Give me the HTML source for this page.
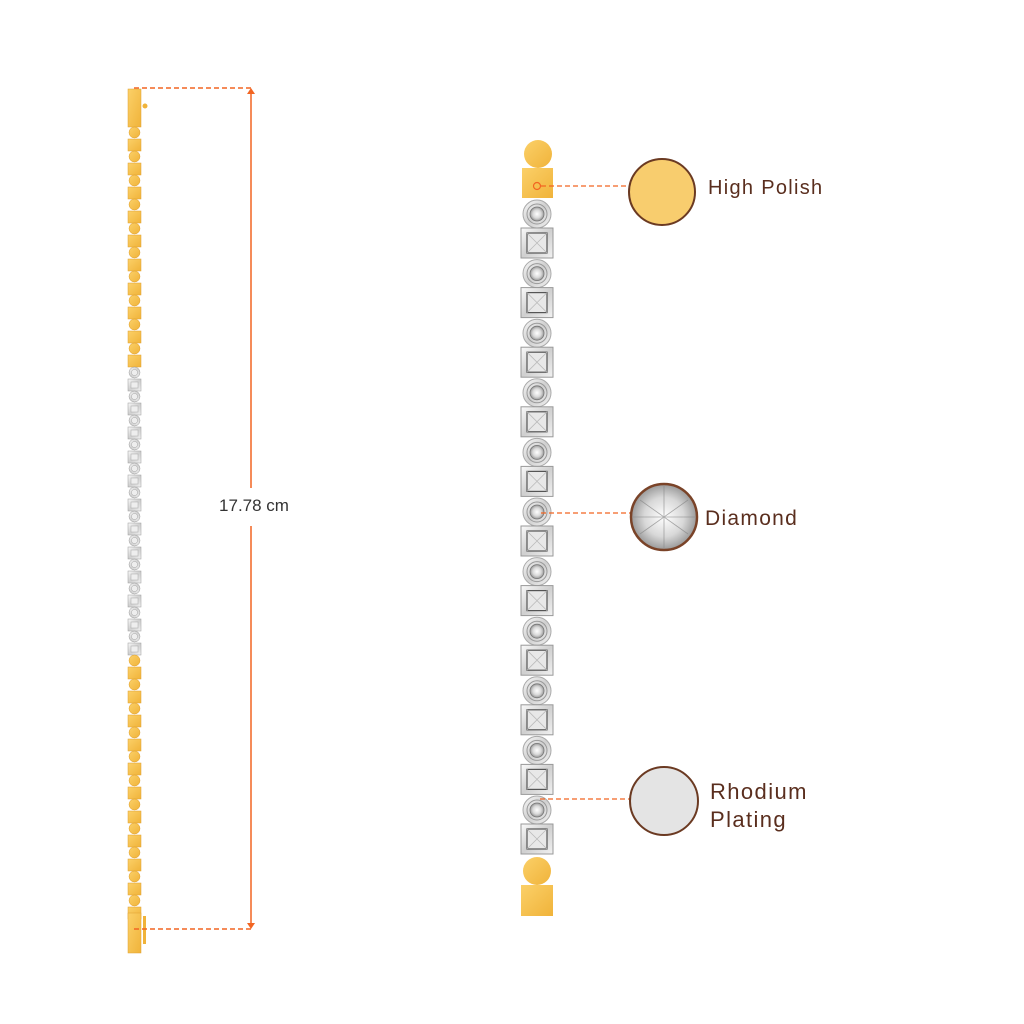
<!DOCTYPE html>
<html><head><meta charset="utf-8">
<style>
html,body{margin:0;padding:0;background:#fff;width:1024px;height:1024px;overflow:hidden}
svg{position:absolute;left:0;top:0}
text{font-family:"Liberation Sans",sans-serif}
</style></head>
<body>
<svg id="s" width="1024" height="1024" viewBox="0 0 1024 1024" xmlns="http://www.w3.org/2000/svg">
<defs>
<linearGradient id="gold" x1="0" x2="1" y1="0" y2="1"><stop offset="0" stop-color="#fbd068"/><stop offset="1" stop-color="#f0b33a"/></linearGradient>
<linearGradient id="silv" x1="0" x2="1" y1="0" y2="1"><stop offset="0" stop-color="#fafafa"/><stop offset="0.5" stop-color="#cfcfcf"/><stop offset="1" stop-color="#f2f2f2"/></linearGradient>
<radialGradient id="dia"><stop offset="0" stop-color="#fff"/><stop offset="0.6" stop-color="#d8d8d8"/><stop offset="1" stop-color="#999"/></radialGradient>
</defs>
<g id="left"></g>
<g id="right"></g>
<line x1="134" y1="88" x2="251" y2="88" stroke="#f26522" stroke-width="1.5" stroke-dasharray="5,3"/>
<line x1="134" y1="929" x2="251" y2="929" stroke="#f26522" stroke-width="1.5" stroke-dasharray="5,3"/>
<line x1="251" y1="92" x2="251" y2="488" stroke="#f26522" stroke-width="1.5"/>
<line x1="251" y1="526" x2="251" y2="925" stroke="#f26522" stroke-width="1.5"/>
<polygon points="247,94 255,94 251,88" fill="#f26522"/>
<polygon points="247,923 255,923 251,929" fill="#f26522"/>
<text x="254" y="511" text-anchor="middle" font-size="17" fill="#333">17.78 cm</text>
<line x1="541" y1="186" x2="628" y2="186" stroke="#f26522" stroke-width="1.3" stroke-dasharray="5,3"/>
<circle cx="537" cy="186" r="3.5" fill="none" stroke="#f26522" stroke-width="1.2"/>
<line x1="541" y1="513" x2="630" y2="513" stroke="#f26522" stroke-width="1.3" stroke-dasharray="5,3"/>
<line x1="540" y1="799" x2="630" y2="799" stroke="#f26522" stroke-width="1.3" stroke-dasharray="5,3"/>
<circle cx="662" cy="192" r="33" fill="#f8cd6e" stroke="#6b3a22" stroke-width="2"/>
<circle cx="664" cy="517" r="33" fill="url(#dia)" stroke="#7a4328" stroke-width="2.5"/>
<g stroke="#888" stroke-width="0.8" opacity="0.7">
<line x1="640" y1="500" x2="688" y2="534"/><line x1="640" y1="534" x2="688" y2="500"/><line x1="664" y1="486" x2="664" y2="548"/><line x1="633" y1="517" x2="695" y2="517"/>
</g>
<circle cx="664" cy="801" r="34" fill="#e4e4e4" stroke="#6b3a22" stroke-width="2"/>
<text x="708" y="194" font-size="20" fill="#5a2e1e" letter-spacing="1.3">High Polish</text>
<text x="705" y="525" font-size="21" fill="#5a2e1e" letter-spacing="1.3">Diamond</text>
<text x="710" y="799" font-size="22" fill="#5a2e1e" letter-spacing="1.4">Rhodium</text>
<text x="710" y="827" font-size="22" fill="#5a2e1e" letter-spacing="1.4">Plating</text>
</svg>
<script>
var NS="http://www.w3.org/2000/svg";
function el(p,t,a){var e=document.createElementNS(NS,t);for(var k in a)e.setAttribute(k,a[k]);p.appendChild(e);return e;}
var L=document.getElementById('left'),R=document.getElementById('right');
el(L,'rect',{x:128,y:89,width:13,height:38,fill:'url(#gold)',stroke:'#e0a030','stroke-width':0.5});
el(L,'circle',{cx:145,cy:106,r:2.5,fill:'#f0b33a'});
for(var y=127;y<905;y+=24){
 var sil=(y>360&&y<632);
 el(L,'circle',{cx:134.5,cy:y+5.5,r:5.5,fill:sil?'url(#silv)':'url(#gold)',stroke:sil?'#999':'#e0a030','stroke-width':0.5});
 el(L,'rect',{x:128,y:y+12,width:13,height:12,fill:sil?'url(#silv)':'url(#gold)',stroke:sil?'#999':'#e0a030','stroke-width':0.5});
 if(sil){el(L,'rect',{x:131,y:y+15,width:7,height:6,fill:'#eee',stroke:'#aaa','stroke-width':0.5});el(L,'circle',{cx:134.5,cy:y+5.5,r:3,fill:'#eee',stroke:'#aaa','stroke-width':0.5});}
}
el(L,'rect',{x:128,y:913,width:13,height:40,fill:'url(#gold)',stroke:'#e0a030','stroke-width':0.5});
el(L,'rect',{x:143,y:916,width:3,height:28,fill:'#f0b33a'});
el(R,'circle',{cx:538,cy:154,r:14,fill:'url(#gold)'});
el(R,'rect',{x:522,y:168,width:31,height:30,fill:'url(#gold)'});
for(var i=0;i<11;i++){
 var cy=214+i*59.6;
 el(R,'circle',{cx:537,cy:cy,r:14,fill:'url(#silv)',stroke:'#aaa','stroke-width':1});
 el(R,'circle',{cx:537,cy:cy,r:10,fill:'none',stroke:'#999','stroke-width':1});
 el(R,'circle',{cx:537,cy:cy,r:7,fill:'url(#dia)',stroke:'#777','stroke-width':0.8});
 var sy=cy+14;
 el(R,'rect',{x:521,y:sy,width:32,height:30,fill:'url(#silv)',stroke:'#999','stroke-width':1});
 el(R,'rect',{x:527,y:sy+5,width:20,height:20,fill:'#e8e8e8',stroke:'#555','stroke-width':1.2});
 el(R,'path',{d:'M527 '+(sy+5)+' L547 '+(sy+25)+' M547 '+(sy+5)+' L527 '+(sy+25),stroke:'#bbb','stroke-width':0.8});
}
el(R,'circle',{cx:537,cy:871,r:14,fill:'url(#gold)'});
el(R,'rect',{x:521,y:885,width:32,height:31,fill:'url(#gold)'});
</script>
</body></html>
